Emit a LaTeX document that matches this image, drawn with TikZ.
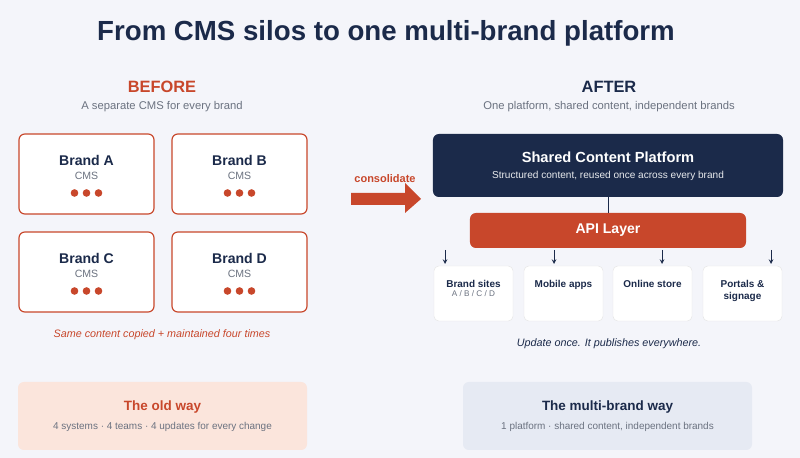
\documentclass[tikz,border=0pt]{standalone}
\usepackage{fontspec}
\setmainfont{Liberation Sans}
\definecolor{navy}{HTML}{1B2A4A}
\definecolor{rust}{HTML}{C8472B}
\definecolor{greytxt}{HTML}{6B7280}
\definecolor{bg}{HTML}{F4F5FA}
\definecolor{oldfill}{HTML}{FBE5DC}
\definecolor{newfill}{HTML}{E6EAF3}
\begin{document}
\begin{tikzpicture}[x=0.03cm,y=-0.03cm,
    cmsbox/.style={draw=rust,line width=1pt,fill=white,rounded corners=5pt},
    outbox/.style={draw=black!10,fill=white,rounded corners=4pt},
    dot/.style={circle,fill=rust,inner sep=0pt,minimum size=6.5pt},
    hd/.style={font=\bfseries\fontsize{12}{14}\selectfont,text=navy},
    sub/.style={font=\fontsize{9.6}{11}\selectfont,text=greytxt},
    small/.style={font=\fontsize{8.5}{10}\selectfont,text=greytxt},
    outlbl/.style={font=\bfseries\fontsize{8.5}{10}\selectfont,text=navy,align=center},
    down/.style={->,>=stealth,navy,line width=0.8pt}
]
\fill[bg] (0,0) rectangle (800,458);
\node[font=\bfseries\fontsize{23.6}{26}\selectfont,text=navy] (title) at (386,33) {From CMS silos to one multi-brand platform};
%
\node[font=\bfseries\fontsize{14}{16}\selectfont,text=rust] (before) at (162,87) {BEFORE};
\node[sub] (beforesub) at (162,107) {A separate CMS for every brand};
\node[font=\bfseries\fontsize{14}{16}\selectfont,text=navy] (after) at (609,87) {AFTER};
\node[sub] (aftersub) at (609,107) {One platform, shared content, independent brands};
%
\foreach \name/\x/\y in {A/19/134,B/172/134,C/19/232,D/172/232}{
  \draw[cmsbox] (\x,\y) rectangle ++(135,80);
  \node[hd] (brand\name) at (\x+67.5,\y+26) {Brand \name};
  \node[small,font=\fontsize{9}{10}\selectfont] (cms\name) at (\x+67.5,\y+42) {CMS};
  \foreach \d in {-12,0,12}
    \node[dot] at (\x+67.5+\d,\y+59) {};
}
\node[font=\itshape\fontsize{9.2}{10}\selectfont,text=rust] (copied) at (162,335) {Same content copied + maintained four times};
%
\fill[rust] (351,193) -- (405,193) -- (405,183) -- (421,199) -- (405,213) -- (405,205) -- (351,205) -- cycle;
\node[font=\bfseries\fontsize{9.4}{10}\selectfont,text=rust] (conslbl) at (385,179) {consolidate};
%
\node[fill=navy,rounded corners=5pt,minimum width=350*0.3mm,minimum height=63*0.3mm] (platform) at (608,165.5) {};
\node[font=\bfseries\fontsize{12.5}{14}\selectfont,text=white] (pltitle) at (608,157) {Shared Content Platform};
\node[font=\fontsize{8.6}{9}\selectfont,text=white!90!navy] (plsub) at (608,176) {Structured content, reused once across every brand};
\node[fill=rust,rounded corners=5pt,minimum width=276*0.3mm,minimum height=35*0.3mm,
      font=\bfseries\fontsize{12}{13}\selectfont,text=white] (api) at (608,230.5) {API Layer};
\draw[navy,line width=0.8pt] (platform) -- (api);
%
\foreach \i/\x/\lbl in {1/434/{Brand sites},2/524/{Mobile apps},3/613/{Online store},4/703/{Portals \&\\signage}}{
  \draw[outbox] (\x,266) rectangle ++(79,55);
  \node[outlbl,anchor=north] (out\i) at (\x+39.5,276) {\lbl};
}
\node[font=\fontsize{7}{8}\selectfont,text=greytxt] (abcd) at (473.5,294) {A / B / C / D};
\foreach \i/\x in {1/445,2/554,3/662,4/771}{
  \coordinate (top\i) at (\x,250);
  \coordinate (tip\i) at (\x,264);
  \draw[down] (top\i) -- (tip\i);
}
\node[font=\itshape\fontsize{9.2}{10}\selectfont,text=navy] (once) at (609,344) {Update once. It publishes everywhere.};
%
\fill[oldfill,rounded corners=5pt] (18,382) rectangle (307,450);
\node[font=\bfseries\fontsize{11.5}{13}\selectfont,text=rust] (old) at (162.5,407) {The old way};
\node[small] (oldsub) at (162.5,427) {4 systems · 4 teams · 4 updates for every change};
\fill[newfill,rounded corners=5pt] (463,382) rectangle (752,450);
\node[font=\bfseries\fontsize{11.5}{13}\selectfont,text=navy] (new) at (607.5,407) {The multi-brand way};
\node[small] (newsub) at (607.5,427) {1 platform · shared content, independent brands};
\end{tikzpicture}
\end{document}
